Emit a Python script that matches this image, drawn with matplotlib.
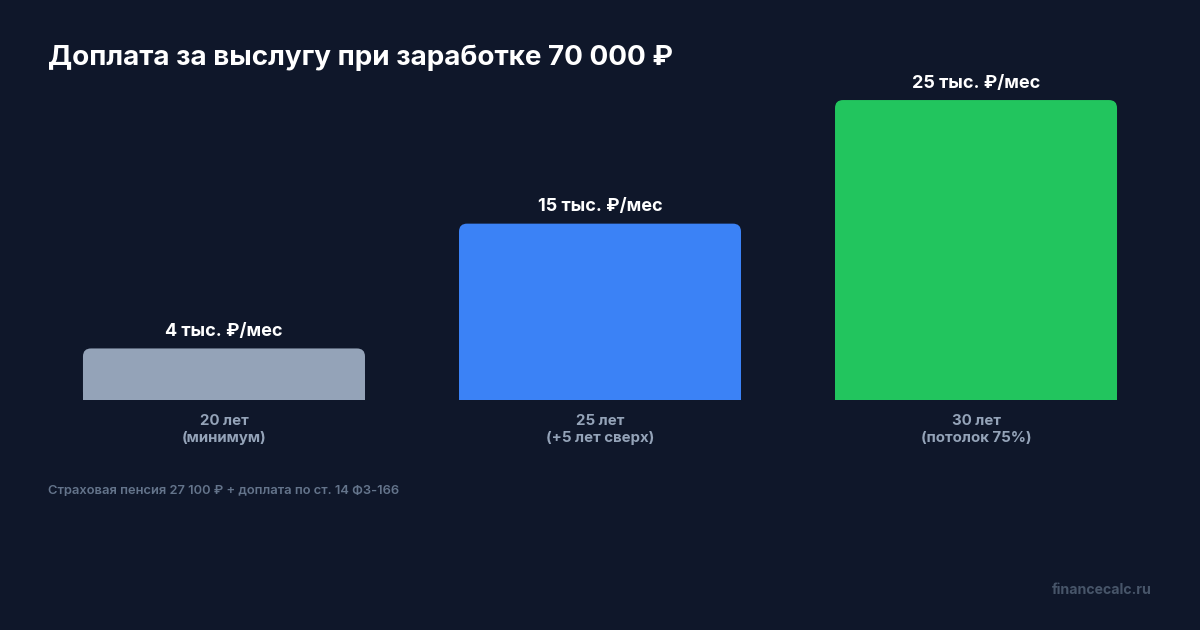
import matplotlib
matplotlib.use("Agg")
import matplotlib.pyplot as plt
from matplotlib.patches import FancyBboxPatch, Rectangle

plt.rcParams['font.family'] = ['Inter', 'DejaVu Sans']

# data
categories = ["20 лет\n(минимум)", "25 лет\n(+5 лет сверх)", "30 лет\n(потолок 75%)"]
values = [4.3, 14.7, 25.0]  # тыс. руб/мес
value_labels = ["4 тыс. ₽/мес", "15 тыс. ₽/мес", "25 тыс. ₽/мес"]
colors = ["#94a3b8", "#3b82f6", "#22c55e"]

title = "Доплата за выслугу при заработке 70 000 ₽"
footnote = "Страховая пенсия 27 100 ₽ + доплата по ст. 14 ФЗ-166"
watermark = "financecalc.ru"

BG = "#0f172a"

fig = plt.figure(figsize=(12, 6.3), dpi=100, facecolor=BG)
ax = fig.add_axes([0.04, 0.365, 0.92, 300 / 630])
ax.set_facecolor(BG)
ax.set_xlim(-0.468, 2.468)
ax.set_ylim(0, 25)
ax.axis("off")

x = list(range(len(categories)))
bars = ax.bar(x, values, width=0.75, color=colors)

# round the top corners (8 px radius)
px_x = 0.92 * 1200 / (2.468 + 0.468)   # px per x unit
px_y = (300) / 25                       # px per y unit
r = 8 / px_x
aspect = px_x / px_y
for b, c in zip(bars, colors):
    b.set_visible(False)
    x0, w, h = b.get_x(), b.get_width(), b.get_height()
    ax.add_patch(FancyBboxPatch((x0, 0), w, h,
                                boxstyle=f"round,pad=0,rounding_size={r}",
                                mutation_aspect=aspect, fc=c, ec="none", lw=0))
    ax.add_patch(Rectangle((x0, 0), w, h / 2, fc=c, ec="none", lw=0))

for xi, v, lab in zip(x, values, value_labels):
    ax.annotate(lab, (xi, v), xytext=(0, 6), textcoords="offset points",
                ha="center", va="bottom", color="white", fontsize=13,
                fontweight="bold", annotation_clip=False)

for xi, cat in zip(x, categories):
    ax.annotate(cat, (xi, 0), xytext=(0, -10), textcoords="offset points",
                ha="center", va="top", color="#94a3b8", fontsize=10.8,
                fontweight="bold", linespacing=1.3, annotation_clip=False)

fig.text(48 / 1200, 1 - 58 / 630, title, ha="left", va="center",
         color="white", fontsize=20, fontweight="bold")
fig.text(48 / 1200, 1 - 491 / 630, footnote, ha="left", va="center",
         color="#64748b", fontsize=9.3, fontweight="semibold")
fig.text(1152 / 1200, 1 - 590 / 630, watermark, ha="right", va="center",
         color="#475569", fontsize=10.2, fontweight="bold")

fig.savefig("out.png", dpi=100, facecolor=BG)
